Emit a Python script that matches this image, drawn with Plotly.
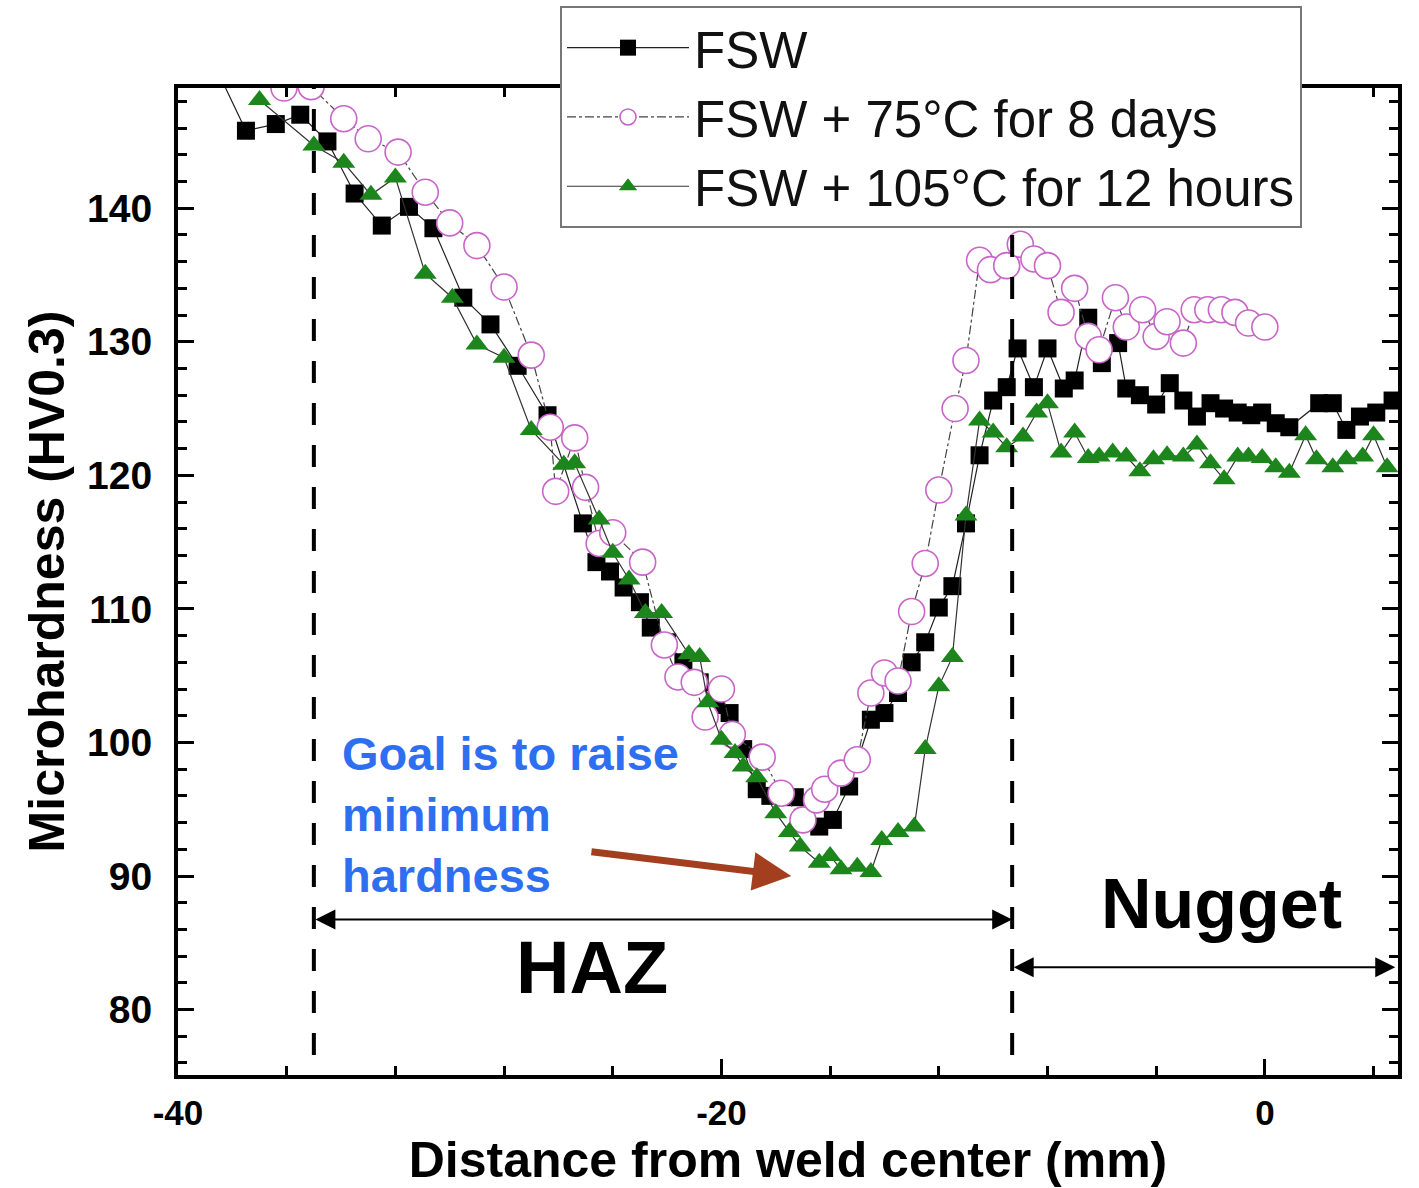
import plotly.graph_objects as go

# ---------------- data ----------------
fsw_x = [-38.6, -37.5, -36.4, -35.5, -34.5, -33.5, -32.5, -31.5, -30.6, -29.5, -28.5, -27.5,
         -26.4, -25.1, -24.6, -24.1, -23.6, -23.0, -22.6, -22.0, -21.4, -20.8, -20.2, -19.7,
         -19.2, -18.7, -18.2, -17.3, -16.4, -15.9, -15.3, -14.5, -14.0, -13.5, -13.0, -12.5,
         -12.0, -11.5, -11.0, -10.5, -10.0, -9.5, -9.1, -8.5, -8.0, -7.4, -7.0, -6.5, -6.0,
         -5.4, -5.1, -4.6, -4.0, -3.5, -3.0, -2.5, -2.0, -1.5, -1.0, -0.5, -0.1, 0.4, 0.9,
         2.0, 2.5, 3.0, 3.5, 4.1, 4.7]
fsw_y = [150.5, 145.8, 146.3, 147.0, 145.0, 141.1, 138.7, 140.1, 138.5, 133.3, 131.3, 128.2,
         124.5, 116.4, 113.5, 112.8, 111.6, 110.5, 108.6, 107.5, 106.0, 104.5, 102.8, 102.2,
         99.5, 96.5, 96.0, 95.9, 93.7, 94.2, 96.7, 101.7, 102.2, 103.7, 106.0, 107.5,
         110.1, 111.7, 116.4, 121.5, 125.6, 126.6, 129.5, 126.6, 129.5, 126.5, 127.1, 131.8, 128.4,
         129.9, 126.5, 126.0, 125.3, 126.9, 125.6, 124.4, 125.4, 125.0, 124.7, 124.5, 124.7, 123.9, 123.6,
         125.4, 125.4, 123.4, 124.4, 124.7, 125.6]

t75_x = [-36.1, -35.1, -33.9, -33.0, -31.9, -30.9, -30.0, -29.0, -28.0, -27.0, -26.3, -26.1,
         -25.4, -25.0, -24.5, -24.0, -22.9, -22.1, -21.6, -21.0, -20.6, -20.0, -19.6, -18.5,
         -17.8, -17.0, -16.5, -16.2, -15.6, -15.0, -14.5, -14.0, -13.5, -13.0, -12.5, -12.0,
         -11.4, -11.0, -10.5, -10.1, -9.5, -9.0, -8.5, -8.0, -7.5, -7.0, -6.5, -6.1, -5.5,
         -5.1, -4.5, -4.0, -3.6, -3.0, -2.6, -2.1, -1.6, -1.1, -0.6, 0.0]
t75_y = [149.0, 149.1, 146.7, 145.2, 144.2, 141.2, 138.9, 137.2, 134.1, 129.0, 123.6, 118.8,
         122.8, 119.1, 114.9, 115.7, 113.5, 107.3, 104.9, 104.5, 101.9, 104.0, 100.6, 98.9,
         96.2, 94.2, 95.7, 96.5, 97.7, 98.7, 103.7, 105.2, 104.6, 109.8, 113.4, 118.9,
         125.0, 128.6, 136.1, 135.4, 135.7, 137.3, 136.2, 135.7, 132.2, 134.0, 130.4, 129.4, 133.3,
         131.1, 132.4, 130.4, 131.5, 129.9, 132.4, 132.4, 132.4, 132.2, 131.4, 131.1]

t105_x = [-37.0, -35.0, -33.9, -32.9, -32.0, -30.9, -29.9, -29.0, -28.0, -27.0, -25.8, -25.4,
          -24.5, -24.0, -23.4, -22.8, -22.2, -21.2, -20.8, -20.5, -20.0, -19.5, -19.2, -18.7,
          -18.0, -17.5, -17.1, -16.4, -16.0, -15.6, -15.0, -14.5, -14.1, -13.5, -12.9, -12.5,
          -12.0, -11.5, -11.0, -10.5, -10.0, -9.5, -8.9, -8.4, -8.0, -7.5, -7.0, -6.5, -6.1,
          -5.6, -5.1, -4.6, -4.1, -3.6, -3.0, -2.5, -2.0, -1.5, -1.0, -0.6, -0.1, 0.4, 0.9,
          1.5, 1.9, 2.5, 3.0, 3.6, 4.0, 4.5]
t105_y = [148.1, 144.7, 143.4, 141.0, 142.3, 135.1, 133.3, 129.8, 128.8, 123.4, 120.8, 120.9,
          116.7, 114.2, 112.2, 109.7, 109.7, 106.6, 106.4, 103.0, 100.2, 99.2, 98.2, 97.4,
          94.7, 93.3, 92.2, 91.0, 91.5, 90.5, 90.7, 90.3, 92.7, 93.3, 93.7, 99.5,
          104.2, 106.4, 117.0, 124.1, 123.2, 122.1, 122.9, 124.7, 125.4, 121.7, 123.2, 121.3, 121.4,
          121.7, 121.4, 120.3, 121.2, 121.5, 121.4, 122.3, 120.9, 119.7, 121.4, 121.4, 121.3, 120.6, 120.2,
          123.0, 121.2, 120.6, 121.2, 121.4, 123.0, 120.6]

series_names = ["FSW", "FSW + 75°C for 8 days", "FSW + 105°C for 12 hours"]

x_tickvals = [-40, -20, 0]
x_ticktext = ["-40", "-20", "0"]
x_minorvals = [-36, -32, -28, -24, -16, -12, -8, -4, 4]

haz_start = -35.0       # left dashed boundary (mm)
nugget_start = -9.3     # right dashed boundary (mm)
x_range = [-40, 4.9]
y_range = [75.1, 149.0]

# ---------------- figure ----------------
fig = go.Figure()

fig.add_trace(go.Scatter(
    x=fsw_x, y=fsw_y, name=series_names[0], mode="lines+markers",
    line=dict(color="#222222", width=1.2),
    marker=dict(symbol="square", size=18, color="black", line=dict(width=0)),
    legendrank=1,
))
fig.add_trace(go.Scatter(
    x=t75_x, y=t75_y, name=series_names[1], mode="lines+markers",
    line=dict(color="#444444", width=1.2, dash="dashdot"),
    marker=dict(symbol="circle", size=26, color="white",
                line=dict(color="#c866c8", width=1.6)),
    legendrank=2,
))
fig.add_trace(go.Scatter(
    x=t105_x, y=t105_y, name=series_names[2], mode="lines+markers",
    line=dict(color="#333333", width=1.2),
    marker=dict(symbol="triangle-up", size=20, color="#1c861c", line=dict(width=0)),
    legendrank=3,
))

# dashed zone boundaries
for xb in (haz_start, nugget_start):
    fig.add_shape(type="line", xref="x", yref="y", x0=xb, x1=xb, y0=76.6, y1=y_range[1],
                  line=dict(color="black", width=4, dash="22px,20px"), layer="above")

annotations = [
    # HAZ double arrow
    dict(x=nugget_start, y=86.75, ax=haz_start, ay=86.75, xref="x", yref="y",
         axref="x", ayref="y", text="", showarrow=True, arrowhead=2, arrowside="end+start",
         arrowwidth=2, arrowsize=2, arrowcolor="black"),
    # Nugget double arrow
    dict(x=4.8, y=83.16, ax=nugget_start, ay=83.16, xref="x", yref="y",
         axref="x", ayref="y", text="", showarrow=True, arrowhead=2, arrowside="end+start",
         arrowwidth=2, arrowsize=2, arrowcolor="black"),
    dict(x=-24.77, y=83.16, xref="x", yref="y", text="<b>HAZ</b>", showarrow=False,
         font=dict(size=74, color="black", family="Liberation Sans")),
    dict(x=-1.58, y=87.87, xref="x", yref="y", text="<b>Nugget</b>", showarrow=False,
         font=dict(size=70, color="black", family="Liberation Sans")),
    # goal text
    dict(x=-34.05, y=94.6, xref="x", yref="y", xanchor="left", yanchor="middle", align="left",
         text="<b>Goal is to raise<br>minimum<br>hardness</b>", showarrow=False,
         font=dict(size=47, color="#2e6ff2", family="Liberation Sans")),
    # brown arrow
    dict(x=-17.43, y=90.0, ax=-24.84, ay=91.83, xref="x", yref="y", axref="x", ayref="y",
         text="", showarrow=True, arrowhead=2, arrowwidth=7, arrowsize=1.1,
         arrowcolor="#a33f1f"),
]

fig.update_layout(
    width=1419, height=1188,
    margin=dict(l=178, r=21, t=88, b=113, autoexpand=False),
    paper_bgcolor="white", plot_bgcolor="white",
    font=dict(family="Liberation Sans", color="black"),
    showlegend=True,
    legend=dict(
        x=(560 - 178) / 1220, y=1 + 82 / 987, xanchor="left", yanchor="top",
        bgcolor="white", bordercolor="#777777", borderwidth=2,
        font=dict(size=51, color="#111111", family="Liberation Sans"),
        itemwidth=122, tracegroupgap=0,
    ),
    annotations=annotations,
)

fig.update_xaxes(
    range=x_range, tickmode="array", tickvals=x_tickvals, ticktext=x_ticktext,
    showgrid=False, zeroline=False,
    showline=True, linewidth=4, linecolor="black", mirror="ticks",
    ticks="inside", ticklen=16, tickwidth=3, tickcolor="black",
    minor=dict(tickmode="array", tickvals=x_minorvals, ticks="inside", ticklen=9,
               tickwidth=2.5, tickcolor="black"),
    tickfont=dict(size=35, family="Liberation Sans", weight="bold"),
    ticklabelstandoff=4, automargin=False,
    title=dict(text="<b>Distance from weld center (mm)</b>", standoff=4,
               font=dict(size=50, family="Liberation Sans")),
)
fig.update_yaxes(
    range=y_range, dtick=10, tick0=0, showgrid=False, zeroline=False,
    showline=True, linewidth=4, linecolor="black", mirror="ticks",
    ticks="inside", ticklen=16, tickwidth=3, tickcolor="black",
    minor=dict(dtick=2, tick0=0, ticks="inside", ticklen=9, tickwidth=2.5, tickcolor="black"),
    tickfont=dict(size=39, family="Liberation Sans", weight="bold"),
    ticklabelstandoff=14, automargin=False,
    title=dict(text="<b>Microhardness (HV0.3)</b>", standoff=8,
               font=dict(size=50, family="Liberation Sans")),
)

fig.write_html("out.html")
